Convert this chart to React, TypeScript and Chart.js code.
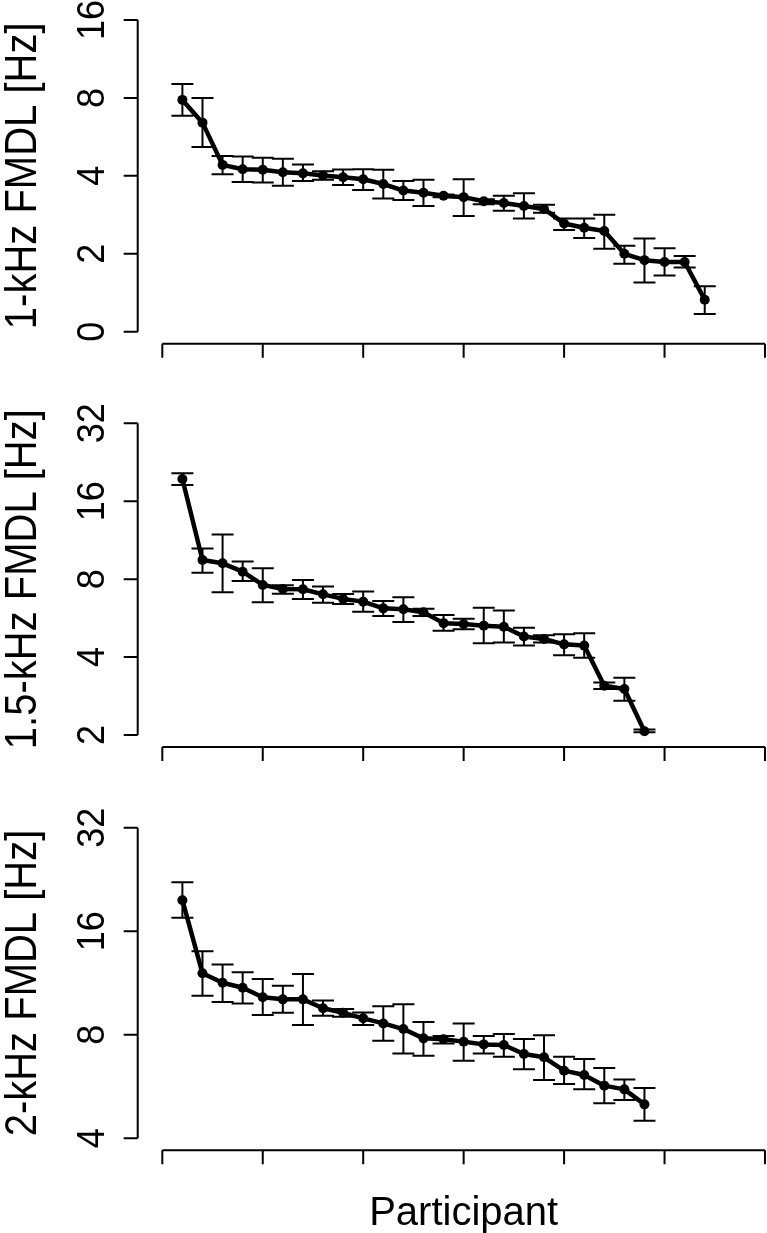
import React, { useEffect, useRef } from "react";
import { Chart, registerables } from "chart.js";

Chart.register(...registerables);

// ---------- data ----------
const participants1k = [1, 2, 3, 4, 5, 6, 7, 8, 9, 10, 11, 12, 13, 14, 15, 16, 17, 18, 19, 20, 21, 22, 23, 24, 25, 26, 27];
const fmdl1k = [7.86, 6.42, 4.41, 4.24, 4.22, 4.13, 4.09, 4.01, 3.95, 3.88, 3.72, 3.51, 3.44, 3.35, 3.31, 3.19, 3.14, 3.06, 2.98, 2.62, 2.52, 2.45, 2.0, 1.89, 1.86, 1.86, 1.33];
const fmdl1kHi = [9.06, 8.0, 4.77, 4.75, 4.7, 4.66, 4.42, 4.17, 4.23, 4.24, 4.22, 3.82, 3.86, 3.39, 3.88, 3.25, 3.35, 3.43, 3.09, 2.74, 2.74, 2.83, 2.15, 2.29, 2.1, 1.96, 1.5];
const fmdl1kLo = [6.82, 5.17, 4.06, 3.79, 3.77, 3.66, 3.82, 3.86, 3.69, 3.53, 3.27, 3.23, 3.06, 3.31, 2.8, 3.11, 2.93, 2.74, 2.88, 2.47, 2.3, 2.09, 1.83, 1.55, 1.65, 1.77, 1.17];

const participants15k = [1, 2, 3, 4, 5, 6, 7, 8, 9, 10, 11, 12, 13, 14, 15, 16, 17, 18, 19, 20, 21, 22, 23, 24];
const fmdl15k = [19.5, 9.49, 9.21, 8.55, 7.6, 7.33, 7.31, 6.99, 6.71, 6.55, 6.17, 6.12, 5.96, 5.41, 5.37, 5.29, 5.24, 4.8, 4.7, 4.48, 4.43, 3.1, 3.01, 2.07];
const fmdl15kHi = [20.5, 10.5, 11.9, 9.35, 8.81, 7.58, 7.94, 7.49, 7.01, 7.16, 6.59, 6.81, 6.15, 5.82, 5.62, 6.21, 6.05, 5.19, 4.86, 4.9, 4.94, 3.19, 3.33, 2.1];
const fmdl15kLo = [18.5, 8.47, 7.12, 7.87, 6.51, 7.03, 6.71, 6.49, 6.42, 5.99, 5.77, 5.47, 5.77, 5.06, 5.12, 4.52, 4.55, 4.43, 4.55, 4.07, 3.98, 3.01, 2.71, 2.05];

const participants2k = [1, 2, 3, 4, 5, 6, 7, 8, 9, 10, 11, 12, 13, 14, 15, 16, 17, 18, 19, 20, 21, 22, 23, 24];
const fmdl2k = [19.7, 12.07, 11.33, 10.96, 10.28, 10.14, 10.14, 9.55, 9.27, 8.93, 8.63, 8.31, 7.81, 7.76, 7.64, 7.5, 7.47, 7.03, 6.88, 6.29, 6.11, 5.69, 5.55, 5.02];
const fmdl2kHi = [22.2, 14.0, 12.8, 12.15, 11.62, 11.11, 12.01, 10.07, 9.5, 9.29, 9.69, 9.82, 8.72, 7.93, 8.63, 7.93, 8.04, 7.77, 7.97, 6.91, 6.8, 6.4, 5.93, 5.6];
const fmdl2kLo = [17.5, 10.38, 9.96, 9.87, 9.13, 9.27, 8.54, 9.08, 9.02, 8.54, 7.69, 7.06, 6.95, 7.55, 6.72, 7.06, 6.91, 6.35, 5.91, 5.75, 5.55, 5.06, 5.17, 4.5];

const yTicks1k = [1, 2, 4, 8, 16];
const yTickLabels1k = ["0", "2", "4", "8", "16"];
const yTicks15k = [2, 4, 8, 16, 32];
const yTickLabels15k = ["2", "4", "8", "16", "32"];
const yTicks2k = [4, 8, 16, 32];
const yTickLabels2k = ["4", "8", "16", "32"];
const xTicks = [0, 5, 10, 15, 20, 25, 30];

const yTitle1k = "1-kHz FMDL [Hz]";
const yTitle15k = "1.5-kHz FMDL [Hz]";
const yTitle2k = "2-kHz FMDL [Hz]";
const xTitle = "Participant";

const FONT = '"Liberation Sans", Arial, Helvetica, sans-serif';

type PanelProps = {
  top: number;
  height: number;
  padTop: number;
  padBottom: number;
  xs: number[];
  ys: number[];
  lo: number[];
  hi: number[];
  yTicks: number[];
  yLabels: string[];
  title: string;
  bottomTitle?: string;
};

function Panel(p: PanelProps) {
  const ref = useRef<HTMLCanvasElement | null>(null);

  useEffect(() => {
    if (!ref.current) return;
    const l2 = (v: number) => Math.log2(v);
    const lo = l2(p.yTicks[0]);
    const hi = l2(p.yTicks[p.yTicks.length - 1]);
    const ext = 0.04 * (hi - lo);
    const yMin = Math.pow(2, lo - ext);
    const yMax = Math.pow(2, hi + ext);

    const rPlugin = {
      id: "rstyle",
      afterDatasetsDraw(chart: any) {
        const { ctx, scales } = chart;
        const sx = scales.x;
        const sy = scales.y;
        ctx.save();
        ctx.strokeStyle = "#000";
        ctx.lineWidth = 2;
        ctx.lineCap = "butt";
        ctx.beginPath();
        p.xs.forEach((xv, i) => {
          const px = sx.getPixelForValue(xv);
          const pl = sy.getPixelForValue(p.lo[i]);
          const ph = sy.getPixelForValue(p.hi[i]);
          ctx.moveTo(px, pl);
          ctx.lineTo(px, ph);
          ctx.moveTo(px - 11, pl);
          ctx.lineTo(px + 11, pl);
          ctx.moveTo(px - 11, ph);
          ctx.lineTo(px + 11, ph);
        });
        ctx.stroke();
        ctx.restore();
      },
      afterDraw(chart: any) {
        const { ctx, chartArea, scales } = chart;
        const sx = scales.x;
        const sy = scales.y;
        ctx.save();
        ctx.strokeStyle = "#000";
        ctx.fillStyle = "#000";
        ctx.lineWidth = 2;
        ctx.lineCap = "butt";

        // y axis
        const ax = chartArea.left - 0.5;
        const yTop = sy.getPixelForValue(p.yTicks[p.yTicks.length - 1]);
        const yBot = sy.getPixelForValue(p.yTicks[0]);
        ctx.beginPath();
        ctx.moveTo(ax, yTop);
        ctx.lineTo(ax, yBot);
        p.yTicks.forEach((t) => {
          const py = sy.getPixelForValue(t);
          ctx.moveTo(ax, py);
          ctx.lineTo(ax - 14, py);
        });
        ctx.stroke();

        ctx.font = `36px ${FONT}`;
        ctx.textAlign = "center";
        ctx.textBaseline = "alphabetic";
        p.yTicks.forEach((t, i) => {
          const py = sy.getPixelForValue(t);
          ctx.save();
          ctx.translate(ax - 34, py);
          ctx.rotate(-Math.PI / 2);
          ctx.scale(1, 1.08);
          ctx.fillText(p.yLabels[i], 0, 0);
          ctx.restore();
        });

        ctx.font = `40px ${FONT}`;
        ctx.save();
        ctx.translate(36, (chartArea.top + chartArea.bottom) / 2);
        ctx.rotate(-Math.PI / 2);
        ctx.scale(1, 1.1);
        ctx.fillText(p.title, 0, 0);
        ctx.restore();

        // x axis
        const ay = chartArea.bottom - 0.5;
        const x0 = sx.getPixelForValue(xTicks[0]);
        const x1 = sx.getPixelForValue(xTicks[xTicks.length - 1]);
        ctx.beginPath();
        ctx.moveTo(x0, ay);
        ctx.lineTo(x1, ay);
        xTicks.forEach((t) => {
          const px = sx.getPixelForValue(t);
          ctx.moveTo(px, ay);
          ctx.lineTo(px, ay + 14);
        });
        ctx.stroke();

        if (p.bottomTitle) {
          ctx.font = `40px ${FONT}`;
          ctx.textAlign = "center";
          ctx.fillText(p.bottomTitle, sx.getPixelForValue(15), chartArea.bottom + 74);
        }
        ctx.restore();
      },
    };

    const chart = new Chart(ref.current, {
      type: "line",
      data: {
        datasets: [
          {
            data: p.xs.map((x, i) => ({ x, y: p.ys[i] })),
            borderColor: "#000",
            backgroundColor: "#000",
            borderWidth: 4.5,
            borderCapStyle: "round",
            borderJoinStyle: "round",
            pointRadius: 5,
            pointBorderWidth: 0,
            pointBackgroundColor: "#000",
            tension: 0,
            fill: false,
          },
        ],
      },
      options: {
        animation: false,
        responsive: false,
        maintainAspectRatio: false,
        events: [],
        layout: { autoPadding: false, padding: { left: 138.2, right: 0, top: p.padTop, bottom: p.padBottom } },
        plugins: { legend: { display: false }, tooltip: { enabled: false }, title: { display: false } },
        scales: {
          x: { type: "linear", min: -1.2, max: 30.1, bounds: "data", display: false },
          y: { type: "logarithmic", min: yMin, max: yMax, bounds: "data", display: false },
        },
      } as any,
      plugins: [rPlugin],
    } as any);
    return () => chart.destroy();
  }, []);

  return (
    <canvas
      ref={ref}
      width={767}
      height={p.height}
      style={{ position: "absolute", left: 0, top: p.top, display: "block", width: 767, height: p.height }}
    />
  );
}

export default function App() {
  return (
    <div style={{ position: "absolute", left: 0, top: 0, width: 767, height: 1233, background: "#fff", overflow: "hidden" }}>
      <Panel top={0} height={400} padTop={7.5} padBottom={55.8} xs={participants1k} ys={fmdl1k} lo={fmdl1kLo} hi={fmdl1kHi} yTicks={yTicks1k} yLabels={yTickLabels1k} title={yTitle1k} />
      <Panel top={400} height={400} padTop={10.8} padBottom={52.5} xs={participants15k} ys={fmdl15k} lo={fmdl15kLo} hi={fmdl15kHi} yTicks={yTicks15k} yLabels={yTickLabels15k} title={yTitle15k} />
      <Panel top={800} height={433} padTop={15.3} padBottom={82.3} xs={participants2k} ys={fmdl2k} lo={fmdl2kLo} hi={fmdl2kHi} yTicks={yTicks2k} yLabels={yTickLabels2k} title={yTitle2k} bottomTitle={xTitle} />
    </div>
  );
}
